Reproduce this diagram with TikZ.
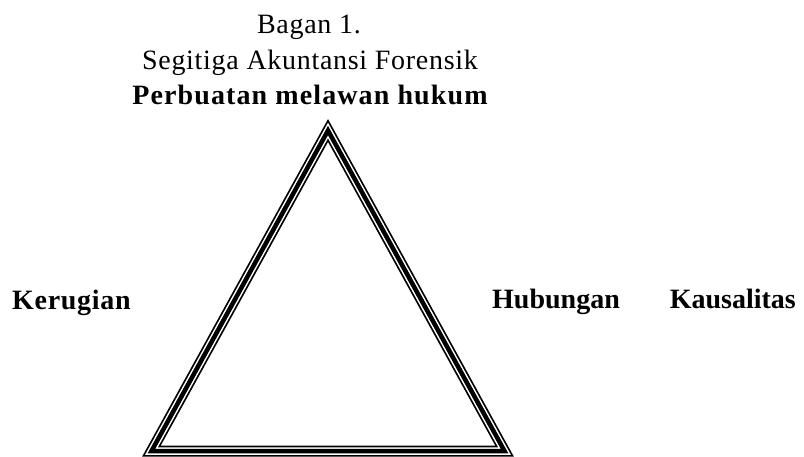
\documentclass[tikz,border=0pt]{standalone}
\usepackage{fontspec}
\setmainfont{Liberation Serif}
\usepackage{tikz}
\usetikzlibrary{positioning}

\tikzset{
  teks/.style={inner sep=0pt, font=\fontsize{28}{34}\selectfont\addfontfeature{LetterSpace=2.5}},
  tebal/.style={inner sep=0pt, font=\fontsize{28}{34}\selectfont\bfseries\addfontfeature{LetterSpace=#1}},
  tebal/.default=2.5
}

\begin{document}
\begin{tikzpicture}[x=1pt, y=-1pt]
      \useasboundingbox (0,0) rectangle (804,457);
      % sudut segitiga (garis tengah)
      \coordinate (atas) at (328,130.5);
      \coordinate (kiri bawah) at (151.5,451);
      \coordinate (kanan bawah) at (504.5,451);
      \foreach \w/\c in {11/black, 7.5/white, 4.5/black} {
        \draw[\c, line width=\w pt, line join=miter] (atas) -- (kanan bawah) -- (kiri bawah) -- cycle;
      }
      \node[teks, anchor=base] (judul) at (309,34) {Bagan 1.};
      \node[teks, anchor=base] (subjudul) at (310,70) {Segitiga Akuntansi Forensik};
      \node[tebal=4, anchor=base] (puncak) at (310,105) {Perbuatan melawan hukum};
      \node[tebal, anchor=base west] (kerugian) at (12,310) {Kerugian};
      \node[tebal=0, anchor=base west] (kausal) at (492,309) {Hubungan\hspace{50pt}Kausalitas};
    \end{tikzpicture}
\end{document}
